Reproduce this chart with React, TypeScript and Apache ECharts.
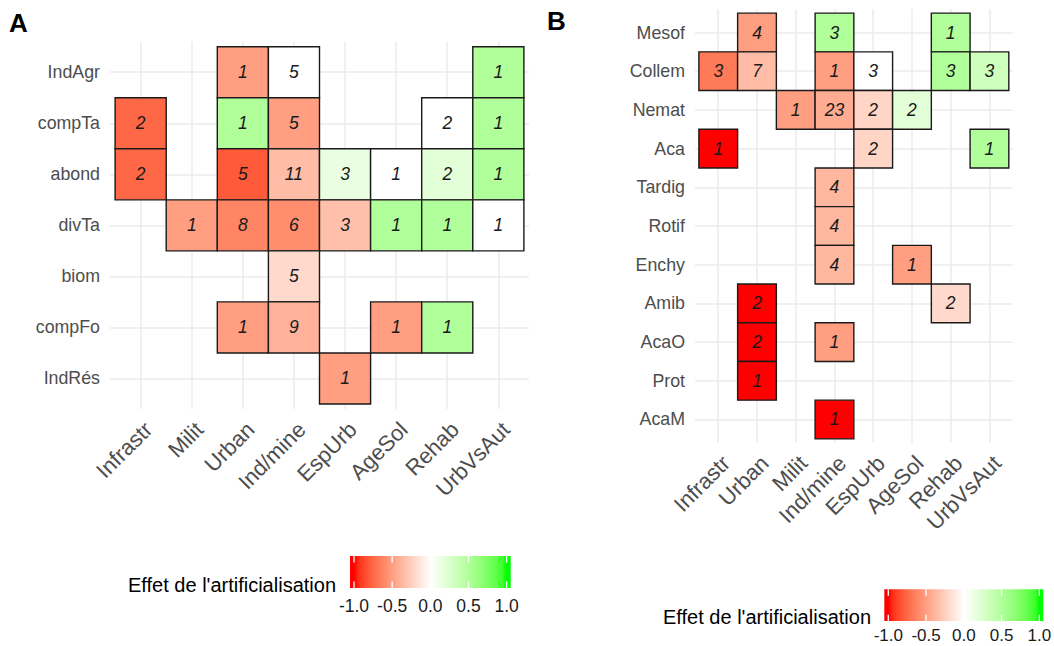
import React, { useEffect, useRef } from 'react';
import * as echarts from 'echarts';

const FONT = '"Liberation Sans", Arial, Helvetica, sans-serif';

// ---------- DATA ----------
const xCatsA = ['Infrastr', 'Milit', 'Urban', 'Ind/mine', 'EspUrb', 'AgeSol', 'Rehab', 'UrbVsAut'];
const yCatsA = ['IndAgr', 'compTa', 'abond', 'divTa', 'biom', 'compFo', 'IndRés'];
const xCatsB = ['Infrastr', 'Urban', 'Milit', 'Ind/mine', 'EspUrb', 'AgeSol', 'Rehab', 'UrbVsAut'];
const yCatsB = ['Mesof', 'Collem', 'Nemat', 'Aca', 'Tardig', 'Rotif', 'Enchy', 'Amib', 'AcaO', 'Prot', 'AcaM'];

// [x category, y category, effect (-1..1), number of studies]
const tilesA: [string, string, number, number][] = [
  ['Urban', 'IndAgr', -0.5, 1],
  ['Ind/mine', 'IndAgr', 0, 5],
  ['UrbVsAut', 'IndAgr', 0.5, 1],
  ['Infrastr', 'compTa', -0.75, 2],
  ['Urban', 'compTa', 0.5, 1],
  ['Ind/mine', 'compTa', -0.5, 5],
  ['Rehab', 'compTa', 0, 2],
  ['UrbVsAut', 'compTa', 0.5, 1],
  ['Infrastr', 'abond', -0.75, 2],
  ['Urban', 'abond', -0.8, 5],
  ['Ind/mine', 'abond', -0.35, 11],
  ['EspUrb', 'abond', 0.15, 3],
  ['AgeSol', 'abond', 0, 1],
  ['Rehab', 'abond', 0.2, 2],
  ['UrbVsAut', 'abond', 0.5, 1],
  ['Milit', 'divTa', -0.5, 1],
  ['Urban', 'divTa', -0.62, 8],
  ['Ind/mine', 'divTa', -0.58, 6],
  ['EspUrb', 'divTa', -0.33, 3],
  ['AgeSol', 'divTa', 0.5, 1],
  ['Rehab', 'divTa', 0.5, 1],
  ['UrbVsAut', 'divTa', 0, 1],
  ['Ind/mine', 'biom', -0.2, 5],
  ['Urban', 'compFo', -0.5, 1],
  ['Ind/mine', 'compFo', -0.4, 9],
  ['AgeSol', 'compFo', -0.5, 1],
  ['Rehab', 'compFo', 0.5, 1],
  ['EspUrb', 'IndRés', -0.5, 1],
];

const tilesB: [string, string, number, number][] = [
  ['Urban', 'Mesof', -0.5, 4],
  ['Ind/mine', 'Mesof', 0.5, 3],
  ['Rehab', 'Mesof', 0.5, 1],
  ['Infrastr', 'Collem', -0.67, 3],
  ['Urban', 'Collem', -0.35, 7],
  ['Ind/mine', 'Collem', -0.5, 1],
  ['EspUrb', 'Collem', 0, 3],
  ['Rehab', 'Collem', 0.5, 3],
  ['UrbVsAut', 'Collem', 0.33, 3],
  ['Milit', 'Nemat', -0.5, 1],
  ['Ind/mine', 'Nemat', -0.43, 23],
  ['EspUrb', 'Nemat', -0.22, 2],
  ['AgeSol', 'Nemat', 0.2, 2],
  ['Infrastr', 'Aca', -1, 1],
  ['EspUrb', 'Aca', -0.22, 2],
  ['UrbVsAut', 'Aca', 0.5, 1],
  ['Ind/mine', 'Tardig', -0.375, 4],
  ['Ind/mine', 'Rotif', -0.375, 4],
  ['Ind/mine', 'Enchy', -0.375, 4],
  ['AgeSol', 'Enchy', -0.5, 1],
  ['Urban', 'Amib', -1, 2],
  ['Rehab', 'Amib', -0.2, 2],
  ['Urban', 'AcaO', -1, 2],
  ['Ind/mine', 'AcaO', -0.5, 1],
  ['Urban', 'Prot', -1, 1],
  ['Ind/mine', 'AcaM', -1, 1],
];

const legendTicks = [-1, -0.5, 0, 0.5, 1];
const legendTickLabels = ['-1.0', '-0.5', '0.0', '0.5', '1.0'];
const legendTitle = "Effet de l'artificialisation";

// ---------- COLOUR SCALE (Lab interpolation like ggplot2 gradient2) ----------
const LOW = [255, 0, 0];
const MID = [255, 255, 255];
const HIGH = [0, 255, 0];

function toLin(c: number) {
  c /= 255;
  return c <= 0.04045 ? c / 12.92 : Math.pow((c + 0.055) / 1.055, 2.4);
}
function fromLin(c: number) {
  c = Math.max(0, Math.min(1, c));
  const v = c <= 0.0031308 ? 12.92 * c : 1.055 * Math.pow(c, 1 / 2.4) - 0.055;
  return Math.round(v * 255);
}
function rgbToLab(rgb: number[]) {
  const R = toLin(rgb[0]), G = toLin(rgb[1]), B = toLin(rgb[2]);
  const X = (0.4124 * R + 0.3576 * G + 0.1805 * B) / 0.95047;
  const Y = 0.2126 * R + 0.7152 * G + 0.0722 * B;
  const Z = (0.0193 * R + 0.1192 * G + 0.9505 * B) / 1.08883;
  const f = (t: number) => (t > 0.008856 ? Math.cbrt(t) : 7.787 * t + 16 / 116);
  return [116 * f(Y) - 16, 500 * (f(X) - f(Y)), 200 * (f(Y) - f(Z))];
}
function labToHex(lab: number[]) {
  const fy = (lab[0] + 16) / 116;
  const fx = fy + lab[1] / 500;
  const fz = fy - lab[2] / 200;
  const inv = (t: number) => (t > 0.206893 ? t * t * t : (t - 16 / 116) / 7.787);
  const X = 0.95047 * inv(fx), Y = inv(fy), Z = 1.08883 * inv(fz);
  const r = fromLin(3.2406 * X - 1.5372 * Y - 0.4986 * Z);
  const g = fromLin(-0.9689 * X + 1.8758 * Y + 0.0415 * Z);
  const b = fromLin(0.0557 * X - 0.204 * Y + 1.057 * Z);
  return '#' + [r, g, b].map((v) => v.toString(16).padStart(2, '0')).join('');
}
function scaleColor(v: number) {
  const mid = rgbToLab(MID);
  const end = rgbToLab(v < 0 ? LOW : HIGH);
  const t = Math.min(1, Math.abs(v));
  return labToHex(mid.map((m, i) => m + (end[i] - m) * t));
}
const STEPS = 40;
const colorStops: string[] = [];
for (let i = 0; i <= STEPS; i++) colorStops.push(scaleColor(-1 + (2 * i) / STEPS));

// ---------- LAYOUT ----------
const panels = [
  { xCats: xCatsA, yCats: yCatsA, tiles: tilesA, grid: { left: 110, top: 41.6, width: 419, height: 367.5 } },
  { xCats: xCatsB, yCats: yCatsB, tiles: tilesB, grid: { left: 695, top: 9.3, width: 317.7, height: 433.4 } },
];
const legends = [
  { titleX: 128, titleY: 585, barX: 350, barY: 556, barW: 160.7, barH: 32, labelY: 606, labelSize: 17.5 },
  { titleX: 663, titleY: 617, barX: 884.3, barY: 589.3, barW: 159, barH: 31.7, labelY: 635.5, labelSize: 17 },
];
const panelTags = [
  { text: 'A', x: 9, y: 22.5 },
  { text: 'B', x: 547, y: 20.5 },
];

const GRID_COLOR = '#EBEBEB';
const AXIS_TEXT = '#4D4D4D';

export default function App() {
  const ref = useRef<HTMLDivElement>(null);

  useEffect(() => {
    if (!ref.current) return;
    const chart = echarts.init(ref.current, undefined, { renderer: 'svg' });

    const idx = (n: number) => Array.from({ length: n }, (_, i) => i + 1);

    const grids = panels.map((p) => ({
      ...p.grid,
      containLabel: false,
      outerBoundsMode: 'none',
    }));

    const xAxes = panels.map((p, i) => ({
      type: 'value',
      gridIndex: i,
      min: 0.4,
      max: p.xCats.length + 0.6,
      axisLine: { show: false },
      axisTick: { show: false, customValues: idx(p.xCats.length) },
      splitLine: { show: true, lineStyle: { color: GRID_COLOR, width: 1.5 } },
      axisLabel: {
        customValues: idx(p.xCats.length),
        formatter: (v: number) => p.xCats[Math.round(v) - 1] ?? '',
        rotate: 45,
        align: 'right',
        verticalAlign: 'top',
        margin: 9,
        fontSize: 22,
        fontFamily: FONT,
        color: AXIS_TEXT,
      },
    }));

    const yAxes = panels.map((p, i) => ({
      type: 'value',
      gridIndex: i,
      inverse: true,
      min: 0.4,
      max: p.yCats.length + 0.6,
      axisLine: { show: false },
      axisTick: { show: false, customValues: idx(p.yCats.length) },
      splitLine: { show: true, lineStyle: { color: GRID_COLOR, width: 1.5 } },
      axisLabel: {
        customValues: idx(p.yCats.length),
        formatter: (v: number) => p.yCats[Math.round(v) - 1] ?? '',
        margin: 10,
        fontSize: 17.8,
        fontFamily: FONT,
        color: AXIS_TEXT,
      },
    }));

    const series = panels.map((p, i) => ({
      type: 'custom',
      xAxisIndex: i,
      yAxisIndex: i,
      encode: { x: 0, y: 1 },
      data: p.tiles.map(([x, y, v, n]) => [p.xCats.indexOf(x) + 1, p.yCats.indexOf(y) + 1, v, n]),
      renderItem: (_params: any, api: any) => {
        const c = api.coord([api.value(0), api.value(1)]);
        const s = api.size([1, 1]);
        const w = Math.abs(s[0]);
        const h = Math.abs(s[1]);
        return {
          type: 'group',
          children: [
            {
              type: 'rect',
              shape: { x: c[0] - w / 2, y: c[1] - h / 2, width: w, height: h },
              style: { fill: api.visual('color'), stroke: '#1A1A1A', lineWidth: 1.4 },
            },
            {
              type: 'text',
              x: c[0],
              y: c[1],
              style: {
                text: String(api.value(3)),
                align: 'center',
                verticalAlign: 'middle',
                fontSize: 17.5,
                fontStyle: 'italic',
                fontFamily: FONT,
                fill: '#1A1A1A',
              },
            },
          ],
        };
      },
    }));

    const graphic: any[] = [];
    panelTags.forEach((t) => {
      graphic.push({
        type: 'text',
        x: t.x,
        y: t.y,
        style: {
          text: t.text,
          fontSize: 26,
          fontWeight: 'bold',
          fontFamily: FONT,
          fill: '#000',
          align: 'left',
          verticalAlign: 'middle',
        },
      });
    });
    legends.forEach((lg) => {
      const tickPos = (v: number) => lg.barX + lg.barW * (0.025 + 0.95 * ((v + 1) / 2));
      graphic.push({
        type: 'text',
        x: lg.titleX,
        y: lg.titleY,
        style: {
          text: legendTitle,
          fontSize: 20,
          fontFamily: FONT,
          fill: '#000',
          align: 'left',
          verticalAlign: 'middle',
        },
      });
      graphic.push({
        type: 'rect',
        shape: { x: lg.barX, y: lg.barY, width: lg.barW, height: lg.barH },
        style: {
          fill: {
            type: 'linear',
            x: 0,
            y: 0,
            x2: 1,
            y2: 0,
            colorStops: [
              { offset: 0, color: colorStops[0] },
              ...colorStops.map((c, i) => ({ offset: 0.025 + (0.95 * i) / STEPS, color: c })),
              { offset: 1, color: colorStops[STEPS] },
            ],
          },
        },
      });
      legendTicks.forEach((v, i) => {
        const x = tickPos(v);
        const tl = lg.barH / 5;
        graphic.push({
          type: 'line',
          shape: { x1: x, y1: lg.barY, x2: x, y2: lg.barY + tl },
          style: { stroke: '#fff', lineWidth: 1.3 },
        });
        graphic.push({
          type: 'line',
          shape: { x1: x, y1: lg.barY + lg.barH - tl, x2: x, y2: lg.barY + lg.barH },
          style: { stroke: '#fff', lineWidth: 1.3 },
        });
        graphic.push({
          type: 'text',
          x,
          y: lg.labelY,
          style: {
            text: legendTickLabels[i],
            fontSize: lg.labelSize,
            fontFamily: FONT,
            fill: '#1A1A1A',
            align: 'center',
            verticalAlign: 'middle',
          },
        });
      });
    });

    chart.setOption({
      animation: false,
      backgroundColor: '#ffffff',
      grid: grids,
      xAxis: xAxes,
      yAxis: yAxes,
      visualMap: {
        type: 'continuous',
        show: false,
        min: -1,
        max: 1,
        dimension: 2,
        seriesIndex: [0, 1],
        inRange: { color: colorStops },
      },
      series,
      graphic,
    } as any);

    return () => chart.dispose();
  }, []);

  return (
    <div
      ref={ref}
      style={{ position: 'fixed', left: 0, top: 0, width: 1054, height: 646, background: '#fff' }}
    />
  );
}
